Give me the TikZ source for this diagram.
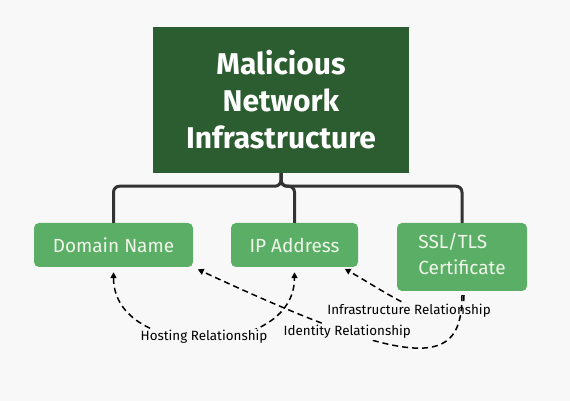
\documentclass[tikz,border=0pt]{standalone}
\usepackage{fontspec}
\setmainfont{Fira Sans}
\usepackage{tikz}
\usetikzlibrary{positioning, arrows.meta}
\definecolor{bggray}{HTML}{F8F8F8}
\definecolor{darkgreen}{HTML}{2B5D30}
\definecolor{leafgreen}{HTML}{5BAE66}
\definecolor{leaftext}{HTML}{F0F7EA}
\definecolor{linegray}{HTML}{333333}
\tikzset{
  rootbox/.style={fill=darkgreen, text=white, font=\fontsize{30}{37}\selectfont\bfseries, align=center, minimum width=256pt, minimum height=146pt, inner sep=0pt},
  leafbox/.style={fill=leafgreen, text=leaftext, rounded corners=5pt, font=\fontsize{19}{24}\selectfont, minimum height=44pt, inner sep=0pt},
  branch/.style={draw=linegray, line width=3pt, rounded corners=6pt},
  relarrow/.style={line width=1.5pt, dash pattern=on 6pt off 4pt},
  rellabel/.style={fill=bggray, text=black, font=\fontsize{13.4}{15}\selectfont, inner sep=1pt}
}

\begin{document}
\begin{tikzpicture}[x=1pt,y=1pt]
\fill[bggray] (0,0) rectangle (570,401);
\node (net) at (281,301)[rootbox] {Malicious\\Network\\Infrastructure};
\node (domain) at (113.5,156)[leafbox, minimum width=159pt] {Domain Name};
\node (ip) at (294.5,156)[leafbox, minimum width=127pt] {IP Address};
\node (ssl) at (462,144)[leafbox, minimum width=130pt, minimum height=68pt] {\begin{tabular}{@{}l@{}}SSL/TLS\\[2pt]Certificate\end{tabular}};
\draw[branch] (net.south) -- ++(0,-13) -| (domain.north);
\draw[branch] (net.south) -- ++(0,-13) -| (ip.north);
\draw[branch] (net.south) -- ++(0,-13) -| (ssl.north);
% relationships
\draw[relarrow, {Triangle[length=6pt,width=6pt]}-{Triangle[length=6pt,width=6pt]}, shorten <=5pt, shorten >=5pt] (domain.south) to[out=-90, in=-90, looseness=1.31] node[rellabel]{Hosting Relationship} (ip.south);
\draw[relarrow, -{Triangle[length=6pt,width=6pt]}, shorten <=4pt, shorten >=3pt] ([xshift=2pt]ssl.south) to[out=-90, in=-30, looseness=1.14] node[rellabel, xshift=-12pt]{Infrastructure Relationship} (ip.-25);
\draw[relarrow, -{Triangle[length=6pt,width=6pt]}, shorten <=4pt, shorten >=5pt] (ssl.south) to[out=-90, in=-25, out distance=75pt, in distance=250pt] node[rellabel, pos=0.71]{Identity Relationship} (domain.south east);
\end{tikzpicture}
\end{document}
